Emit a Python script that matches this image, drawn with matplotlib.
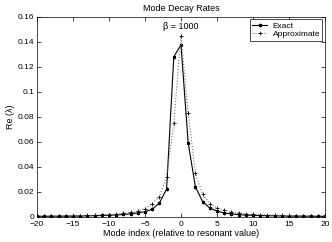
import numpy as np
import matplotlib
matplotlib.use('Agg')
import matplotlib.pyplot as plt

plt.rcParams['font.family'] = ['Liberation Sans', 'DejaVu Sans']
plt.rcParams['font.size'] = 6

# datos
modes = list(range(-20, 21))
exact = [0.0003, 0.0003, 0.0004, 0.0004, 0.0005, 0.0005, 0.0006, 0.0007, 0.0008, 0.001,
         0.0012, 0.0014, 0.0018, 0.0023, 0.003, 0.004, 0.006, 0.011, 0.022, 0.128,
         0.1375,
         0.059, 0.024, 0.012, 0.007, 0.0045, 0.003, 0.0022, 0.0017, 0.0013, 0.0011,
         0.0009, 0.0008, 0.0007, 0.0006, 0.0005, 0.0005, 0.0004, 0.0004, 0.0003, 0.0003]
approx = [0.0004, 0.0005, 0.0005, 0.0006, 0.0007, 0.0008, 0.0009, 0.001, 0.0012, 0.0014,
          0.0017, 0.002, 0.0027, 0.0035, 0.0045, 0.0065, 0.0105, 0.016, 0.032, 0.075,
          0.1445,
          0.083, 0.035, 0.018, 0.0105, 0.007, 0.005, 0.0038, 0.003, 0.0024, 0.002,
          0.0016, 0.0014, 0.0012, 0.001, 0.0009, 0.0008, 0.0007, 0.0006, 0.0005, 0.0005]
xticks = [-20, -15, -10, -5, 0, 5, 10, 15, 20]
yticks = [0, 0.02, 0.04, 0.06, 0.08, 0.1, 0.12, 0.14, 0.16]
ytick_labels = ['0', '0.02', '0.04', '0.06', '0.08', '0.1', '0.12', '0.14', '0.16']

fig = plt.figure(figsize=(3.32, 2.42), dpi=100)
ax = fig.add_axes([0.1114, 0.1045, 0.8675, 0.8264])

ax.plot(modes, exact, '-', color='black', linewidth=0.8, marker=(6, 2, 0),
        markersize=2.5, markeredgewidth=0.6, label='Exact')
ax.plot(modes, approx, ':', color='0.45', linewidth=0.8, marker='+',
        markersize=3.5, markeredgewidth=0.6, markeredgecolor='black', label='Approximate')

ax.text(0, 0.152, '\u03b2 = 1000', ha='center', va='center', fontsize=6.5)

ax.set_xlim(-20, 20)
ax.set_ylim(0, 0.16)
ax.set_xticks(xticks)
ax.set_xticklabels([str(t).replace('-', '\u2212') for t in xticks])
ax.set_yticks(yticks)
ax.set_yticklabels(ytick_labels)
ax.tick_params(direction='in', top=True, right=True, length=3, width=0.5, pad=2)
ax.tick_params(axis='x', pad=3)
for s in ax.spines.values():
    s.set_linewidth(0.5)

ax.set_title('Mode Decay Rates', fontsize=6.5, pad=4)
ax.set_xlabel('Mode index (relative to resonant value)', fontsize=6.5, labelpad=1)
ax.set_ylabel('Re (\u03bb)', fontsize=6.5, labelpad=2)

leg = ax.legend(loc='upper right', fontsize=6, fancybox=False, framealpha=1,
                edgecolor='black', borderpad=0.3, handlelength=1.8,
                handletextpad=0.6, labelspacing=0.1, borderaxespad=0.3)
leg.get_frame().set_linewidth(0.5)

fig.savefig('out.png', dpi=100)
